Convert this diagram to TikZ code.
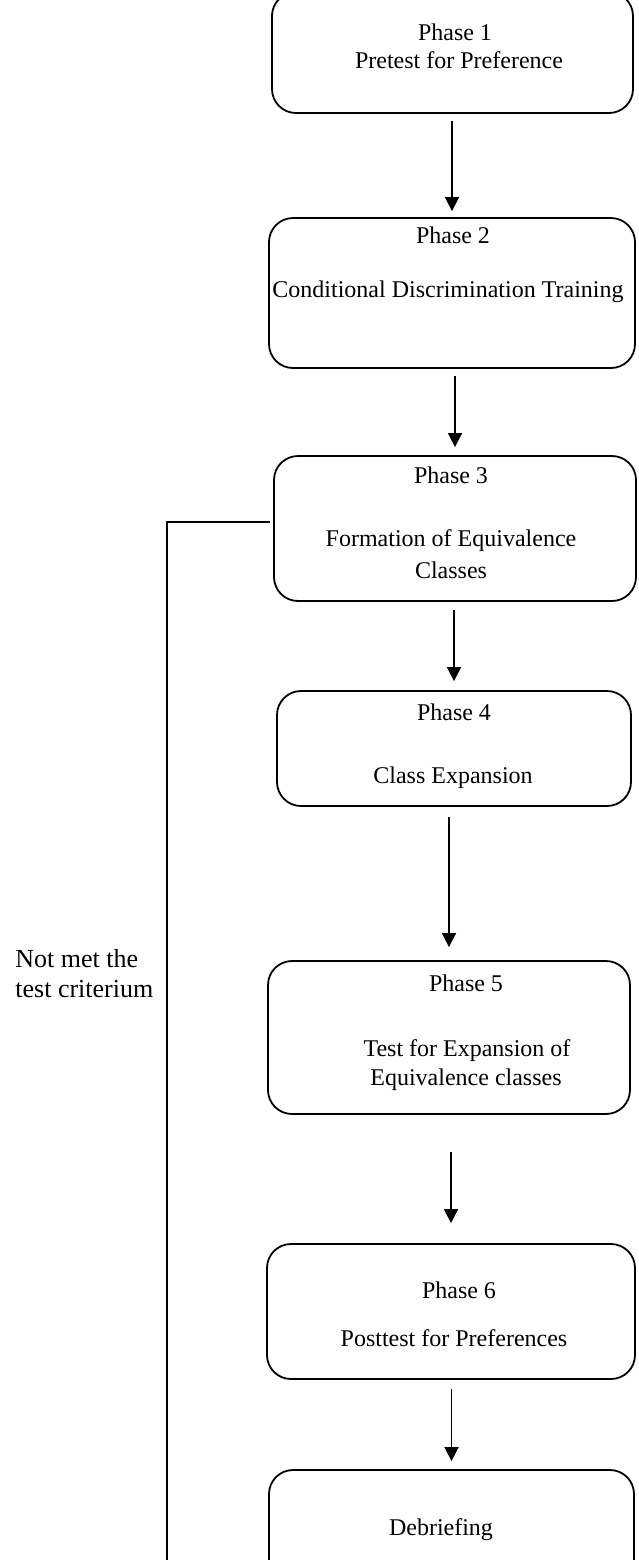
\documentclass[tikz,border=0pt]{standalone}
\usepackage{fontspec}
\setmainfont{Liberation Serif}
\usetikzlibrary{arrows.meta}

\tikzset{
  stage/.style={draw,line width=0.9pt,rounded corners=12pt,inner sep=0pt},
  txt/.style={font=\fontsize{12}{14}\selectfont,inner sep=0pt,anchor=base},
  note/.style={font=\fontsize{13}{15}\selectfont,inner sep=0pt,align=left},
  flow/.style={line width=0.8pt,-{Triangle[length=7pt,width=7pt]}},
  back/.style={line width=0.9pt},
}

\begin{document}
\begin{tikzpicture}[x=0.5pt,y=-0.5pt]
  \useasboundingbox (0,0) rectangle (638,1560);

  % phase boxes: name/left/top/right/bottom
  \foreach \nm/\xl/\yt/\xr/\yb in {p1/272/-8/633/113, p2/269/218/635/368,
      p3/274/456/636/601, p4/277/691/631/806, p5/268/961/630/1114,
      p6/267/1244/635/1379, p7/269/1470/634/1590}{
    \node[stage,minimum width={(\xr-\xl)*0.5pt},minimum height={(\yb-\yt)*0.5pt}]
      (\nm) at ({(\xl+\xr)/2},{(\yt+\yb)/2}) {};}

  % box texts, one line each
  \foreach \nm/\x/\y/\s in {p1a/455/40/Phase 1, p1b/459/68/Pretest for Preference,
      p2a/453/243/Phase 2, p2b/448/297/Conditional Discrimination Training,
      p3a/451/483/Phase 3, p3b/451/546/Formation of Equivalence, p3c/451/578/Classes,
      p4a/454/720/Phase 4, p4b/453/783/Class Expansion,
      p5a/466/991/Phase 5, p5b/467/1056/Test for Expansion of, p5c/466/1085/Equivalence classes,
      p6a/459/1298/Phase 6, p6b/454/1346/Posttest for Preferences,
      p7a/441/1535/Debriefing}
    \node[txt] (\nm) at (\x,\y) {\s};

  % arrows down the chain
  \foreach \a/\c/\s/\e in {p1/p2/3.5pt/3pt, p2/p3/3.5pt/4pt, p3/p4/4pt/4.5pt,
      p4/p5/5pt/6.5pt, p5/p6/18.5pt/10pt, p6/p7/4.5pt/4pt}
    \draw[flow,shorten <=\s,shorten >=\e] (\a.south -| \c.north) -- (\c.north);

  % back to phase 3
  \coordinate (loopend) at (167,1590);
  \draw[back] (loopend) |- ([xshift=-1.5pt,yshift=3.25pt]p3.west);
  \node[note,anchor=west] (crit) at (15,974) {Not met the\\test criterium};
\end{tikzpicture}
\end{document}
